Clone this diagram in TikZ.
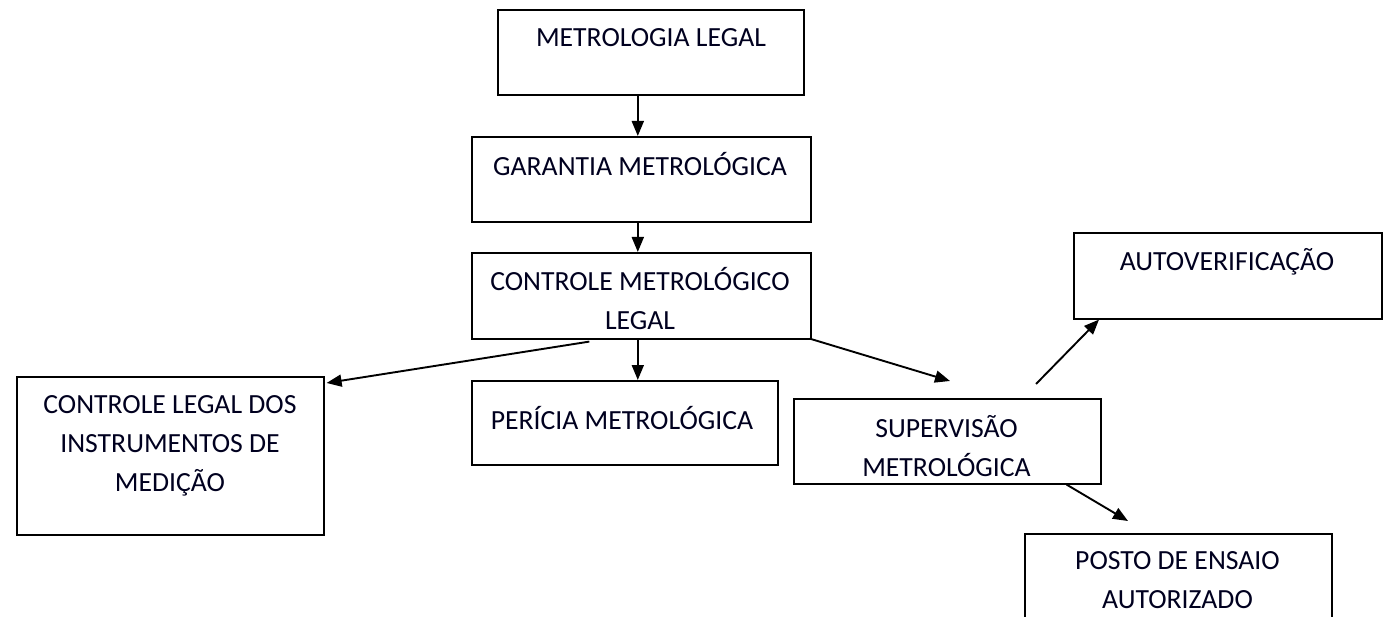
\documentclass[tikz,border=0pt]{standalone}
\usepackage{fontspec}
\setmainfont{Carlito}
\usetikzlibrary{arrows.meta}
\begin{document}
\begin{tikzpicture}[x=1pt,y=-1pt,
  box/.style={draw=black, line width=1.6pt, rectangle, inner sep=0pt, anchor=north west},
  lbl/.style={font=\fontsize{27.7}{39}\selectfont, align=center, inner sep=0pt, text=black!88!blue},
  arr/.style={draw=black, line width=1.9pt, -{Triangle[length=15pt,width=12pt]}}]
\useasboundingbox (0,0) rectangle (1386,617);
\clip (0,0) rectangle (1386,617);
\fill[white] (0,0) rectangle (1386,617);
% boxes
\node[box, minimum width=306pt, minimum height=85pt] (b1) at (497,9) {};
\node[box, minimum width=339pt, minimum height=85pt] (b2) at (471,136) {};
\node[box, minimum width=339pt, minimum height=86pt] (b3) at (471,252) {};
\node[box, minimum width=307pt, minimum height=158pt] (lb) at (16,376) {};
\node[box, minimum width=306pt, minimum height=84pt] (per) at (471,380) {};
\node[box, minimum width=307pt, minimum height=85pt] (sup) at (793,398) {};
\node[box, minimum width=308pt, minimum height=86pt] (av) at (1073,232) {};
\node[box, minimum width=307pt, minimum height=90pt] (po) at (1024,533) {};
% texts
\node[lbl] (t1) at (651,38) {METROLOGIA LEGAL};
\node[lbl] (t2) at (640,164) {GARANTIA METROLÓGICA};
\node[lbl] (t3) at (640,299) {CONTROLE METROLÓGICO\\LEGAL};
\node[lbl] (tlb) at (170,446) {CONTROLE LEGAL DOS\\INSTRUMENTOS DE\\MEDIÇÃO};
\node[lbl] (tper) at (622,418) {PERÍCIA METROLÓGICA};
\node[lbl] (tsup) at (946.5,446) {SUPERVISÃO\\METROLÓGICA};
\node[lbl] (tav) at (1227,262) {AUTOVERIFICAÇÃO};
\node[lbl] (tpo) at (1177.5,580) {POSTO DE ENSAIO\\AUTORIZADO};
% free ends
\coordinate (e5) at (950,381);
\coordinate (s6) at (1036,384);
\coordinate (e7) at (1128,521);
% connectors
\draw[arr] ([xshift=-13pt]b1.south) -- ([xshift=-13pt]b1.south |- b2.north);
\draw[arr] ([xshift=-3.5pt]b2.south) -- ([xshift=-3.5pt]b2.south |- b3.north);
\draw[arr] ([shift={(-52,2)}]b3.south) -- ([shift={(2,7)}]lb.north east);
\draw[arr] ([xshift=-3.5pt]b3.south) -- ([xshift=-3.5pt]b3.south |- per.north);
\draw[arr] ([shift={(-2,-1)}]b3.south east) -- (e5);
\draw[arr] (s6) -- ([xshift=26pt]av.south west);
\draw[arr] ([xshift=-35pt]sup.south east) -- (e7);
\end{tikzpicture}
\end{document}
